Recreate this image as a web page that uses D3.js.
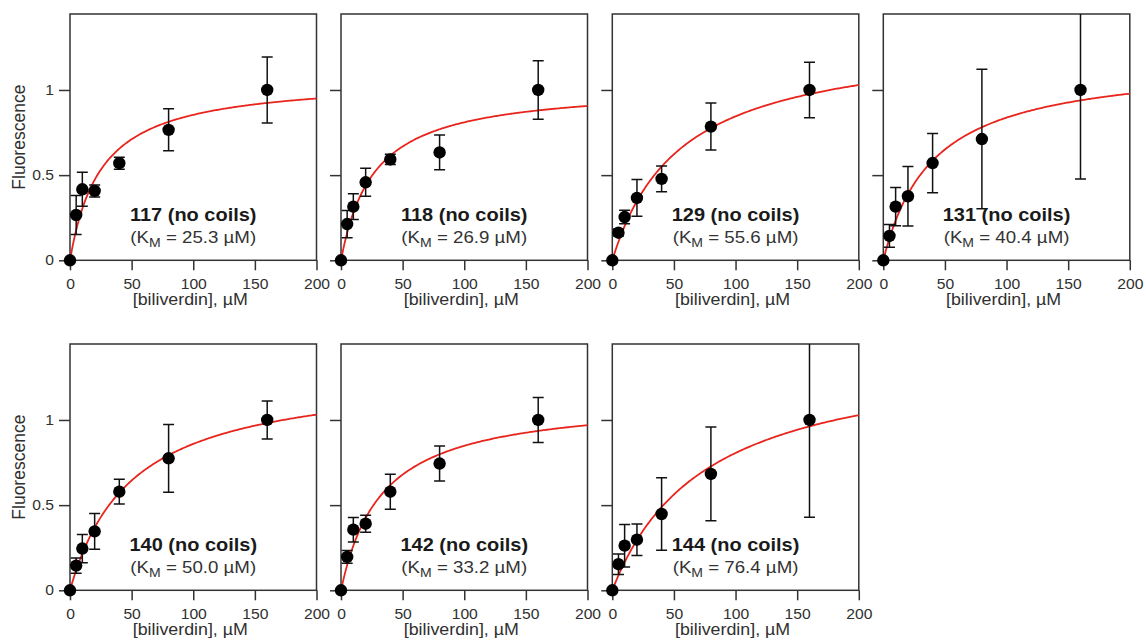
<!DOCTYPE html>
<html>
<head>
<meta charset="utf-8">
<script src="https://cdn.jsdelivr.net/npm/d3@7"></script>
<style>
  html, body { margin: 0; padding: 0; background: #fff; }
  svg { display: block; font-family: "Liberation Sans", Arial, Helvetica, sans-serif; }
</style>
</head>
<body>
<svg id="chart" width="1146" height="643"></svg>
<script>
// Biliverdin titration of each construct: mean fluorescence (normalised) and error
const concentrations = [0, 5, 10, 20, 40, 80, 160];   // µM
const constructs = ["117", "118", "129", "131", "140", "142", "144"];
const kmValues   = [25.3, 26.9, 55.6, 40.4, 50.0, 33.2, 76.4];   // fitted K_M, µM
const vmaxValues = [1.07, 1.028, 1.315, 1.176, 1.289, 1.13, 1.422]; // fitted plateau

const mean117 = [0, 0.266, 0.417, 0.407, 0.570, 0.766, 1.0];
const err117  = [0, 0.115, 0.100, 0.035, 0.035, 0.123, 0.194];
const mean118 = [0, 0.213, 0.315, 0.458, 0.592, 0.633, 1.0];
const err118  = [0, 0.080, 0.075, 0.082, 0.030, 0.102, 0.172];
const mean129 = [0, 0.162, 0.254, 0.366, 0.478, 0.785, 1.0];
const err129  = [0, 0.020, 0.040, 0.108, 0.075, 0.138, 0.163];
const mean131 = [0, 0.143, 0.315, 0.376, 0.571, 0.712, 1.0];
const err131  = [0, 0.067, 0.112, 0.175, 0.174, 0.409, 0.522];
const mean140 = [0, 0.145, 0.245, 0.346, 0.579, 0.775, 1.0];
const err140  = [0, 0.045, 0.083, 0.105, 0.073, 0.199, 0.112];
const mean142 = [0, 0.196, 0.356, 0.391, 0.579, 0.744, 1.0];
const err142  = [0, 0.037, 0.072, 0.050, 0.103, 0.103, 0.132];
const mean144 = [0, 0.153, 0.262, 0.297, 0.448, 0.683, 1.0];
const err144  = [0, 0.060, 0.125, 0.092, 0.213, 0.275, 0.571];

const meanSeries = [mean117, mean118, mean129, mean131, mean140, mean142, mean144];
const errSeries  = [err117, err118, err129, err131, err140, err142, err144];

const xTicks = [0, 50, 100, 150, 200];
const yTicks = [0, 0.5, 1];
const yTickLabels = ["0", "0.5", "1"];
const xDomain = [0, 200];
const yDomain = [0, 1.446];
const xTitle = "[biliverdin], µM";
const yTitle = "Fluorescence";

// ---- layout ----
const panelW = 246.5, panelH = 246.3;
const colLeft = [70, 341, 612.3, 883.3];
const rowTop = [14, 344];
const SX = 1.08;              // slight horizontal widening of the lettering
const frameColor = "#333";
const textColor = "#303030";
const curveColor = "#e8251d";

const svg = d3.select("#chart");
const defs = svg.append("defs");

const x = d3.scaleLinear().domain(xDomain).range([0, panelW]);
const y = d3.scaleLinear().domain(yDomain).range([panelH, 0]);

defs.append("clipPath").attr("id", "plotClip")
  .append("rect").attr("x", -20).attr("y", 0).attr("width", panelW + 40).attr("height", panelH + 20);

constructs.forEach((name, i) => {
  const col = i % 4, row = Math.floor(i / 4);
  const g = svg.append("g").attr("transform", `translate(${colLeft[col]},${rowTop[row]})`);

  // y axis (labels only on the first column)
  const yAxis = d3.axisLeft(y).tickValues(yTicks).tickSize(11).tickPadding(5)
    .tickFormat((d, k) => col === 0 ? yTickLabels[k] : "");
  const ya = g.append("g").call(yAxis);
  ya.select(".domain").remove();
  ya.selectAll(".tick line").attr("stroke", frameColor).attr("stroke-width", 1.5);
  ya.selectAll(".tick text")
    .attr("fill", textColor).attr("font-size", 14.5)
    .attr("x", -16 / SX).attr("transform", `scale(${SX},1)`);

  // x axis
  const xAxis = d3.axisBottom(x).tickValues(xTicks).tickSize(10).tickPadding(8);
  const xa = g.append("g").attr("transform", `translate(0,${panelH})`).call(xAxis);
  xa.select(".domain").remove();
  xa.selectAll(".tick line").attr("stroke", frameColor).attr("stroke-width", 1.5);
  xa.selectAll(".tick text")
    .attr("fill", textColor).attr("font-size", 14.5)
    .attr("transform", `scale(${SX},1)`);

  // frame
  g.append("rect").attr("x", 0).attr("y", 0).attr("width", panelW).attr("height", panelH)
    .attr("fill", "none").attr("stroke", frameColor).attr("stroke-width", 1.5);

  // fitted Michaelis–Menten curve
  const km = kmValues[i], vmax = vmaxValues[i];
  const fitX = d3.range(0, 200.01, 1);
  const line = d3.line().x(d => x(d)).y(d => y(vmax * d / (km + d)));
  g.append("path").datum(fitX).attr("d", line)
    .attr("fill", "none").attr("stroke", curveColor).attr("stroke-width", 1.8)
    .attr("clip-path", "url(#plotClip)");

  // points with error bars
  const pts = concentrations.map((c, k) => ({ c, m: meanSeries[i][k], e: errSeries[i][k] }));
  const eb = g.append("g").attr("clip-path", "url(#plotClip)")
    .attr("stroke", "#111").attr("stroke-width", 1.5);
  const capHalf = 5.5;
  pts.filter(p => p.e > 0).forEach(p => {
    const cx = x(p.c);
    eb.append("line").attr("x1", cx).attr("x2", cx).attr("y1", y(p.m - p.e)).attr("y2", y(p.m + p.e));
    eb.append("line").attr("x1", cx - capHalf).attr("x2", cx + capHalf).attr("y1", y(p.m - p.e)).attr("y2", y(p.m - p.e));
    eb.append("line").attr("x1", cx - capHalf).attr("x2", cx + capHalf).attr("y1", y(p.m + p.e)).attr("y2", y(p.m + p.e));
  });
  g.append("g").selectAll("circle").data(pts).join("circle")
    .attr("cx", p => x(p.c)).attr("cy", p => y(p.m)).attr("r", 6.2).attr("fill", "#000");

  // construct label and K_M
  const cxText = panelW / 2;
  g.append("text")
    .attr("transform", `translate(${cxText},${panelH - 39.5}) scale(${SX},1)`)
    .attr("text-anchor", "middle").attr("font-weight", "bold").attr("font-size", 18.5)
    .attr("fill", "#1a1a1a").text(`${name} (no coils)`);
  const sub = g.append("text")
    .attr("transform", `translate(${cxText},${panelH - 17.2}) scale(${SX},1)`)
    .attr("text-anchor", "middle").attr("font-size", 17.3).attr("fill", "#333");
  sub.append("tspan").text("(K");
  sub.append("tspan").attr("font-size", 13).attr("dy", 4).text("M");
  sub.append("tspan").attr("dy", -4).text(` = ${d3.format(".1f")(km)} µM)`);

  // axis titles
  g.append("text")
    .attr("transform", `translate(${panelW / 2 - 3},${panelH + 45}) scale(${SX},1)`)
    .attr("text-anchor", "middle").attr("font-size", 16.5).attr("fill", textColor)
    .text(xTitle);
  if (col === 0) {
    g.append("text")
      .attr("transform", `translate(${-45},${panelH / 2}) rotate(-90)`)
      .attr("text-anchor", "middle").attr("font-size", 17.5).attr("fill", textColor)
      .text(yTitle);
  }
});
</script>
</body>
</html>
